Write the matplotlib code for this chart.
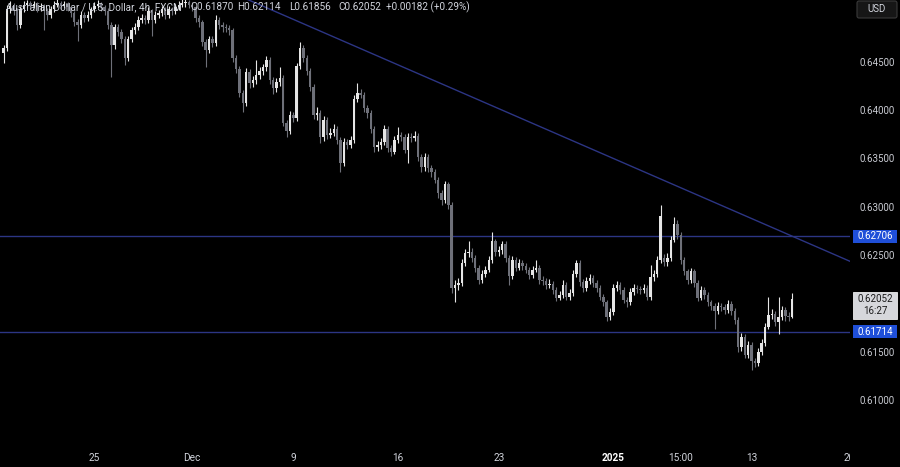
import numpy as np
import matplotlib
matplotlib.use("Agg")
import matplotlib.pyplot as plt
from matplotlib.patches import Rectangle, FancyBboxPatch
from matplotlib.transforms import blended_transform_factory

plt.rcParams['font.family'] = ['Roboto', 'DejaVu Sans']

# ---------------- data (AUD/USD 4h candles) ----------------
FIRST_OPEN = 0.6460
CLOSES = [
    0.6465, 0.6505, 0.6509, 0.6503, 0.6489, 0.6505, 0.6510, 0.6512, 0.6509, 0.6511,
    0.6507, 0.6509, 0.6503, 0.6499, 0.6505, 0.6510, 0.6512, 0.6509, 0.6511, 0.6507,
    0.6501, 0.6492, 0.6489, 0.6499, 0.6496, 0.6499, 0.6505, 0.6509, 0.6511, 0.6507,
    0.6503, 0.6489, 0.6468, 0.6487, 0.6482, 0.6474, 0.6455, 0.6474, 0.6484, 0.6487,
    0.6494, 0.6496, 0.6494, 0.6503, 0.6494, 0.6499, 0.6501, 0.6505, 0.6499, 0.6505,
    0.6503, 0.6507, 0.6510, 0.6512, 0.6513, 0.6510, 0.6507, 0.6496, 0.6492, 0.6471,
    0.6463, 0.6474, 0.6470, 0.6494, 0.6489, 0.6487, 0.6486, 0.6484, 0.6455, 0.6443,
    0.6419, 0.6408, 0.6440, 0.6429, 0.6432, 0.6437, 0.6441, 0.6445, 0.6453, 0.6432,
    0.6424, 0.6430, 0.6434, 0.6388, 0.6379, 0.6396, 0.6393, 0.6446, 0.6465, 0.6455,
    0.6441, 0.6425, 0.6396, 0.6398, 0.6373, 0.6391, 0.6375, 0.6377, 0.6381, 0.6370,
    0.6346, 0.6368, 0.6365, 0.6370, 0.6412, 0.6419, 0.6417, 0.6403, 0.6398, 0.6381,
    0.6363, 0.6365, 0.6368, 0.6381, 0.6362, 0.6358, 0.6370, 0.6375, 0.6373, 0.6360,
    0.6373, 0.6372, 0.6374, 0.6352, 0.6342, 0.6352, 0.6341, 0.6337, 0.6329, 0.6315,
    0.6308, 0.6324, 0.6303, 0.6217, 0.6220, 0.6222, 0.6243, 0.6253, 0.6254, 0.6248,
    0.6238, 0.6225, 0.6231, 0.6236, 0.6246, 0.6265, 0.6254, 0.6256, 0.6262, 0.6248,
    0.6229, 0.6246, 0.6238, 0.6243, 0.6240, 0.6236, 0.6230, 0.6236, 0.6238, 0.6225,
    0.6224, 0.6220, 0.6221, 0.6215, 0.6207, 0.6210, 0.6220, 0.6208, 0.6212, 0.6231,
    0.6243, 0.6223, 0.6217, 0.6224, 0.6227, 0.6222, 0.6217, 0.6208, 0.6202, 0.6187,
    0.6192, 0.6217, 0.6220, 0.6215, 0.6205, 0.6202, 0.6213, 0.6217, 0.6216, 0.6215,
    0.6217, 0.6208, 0.6228, 0.6231, 0.6246, 0.6291, 0.6244, 0.6248, 0.6267, 0.6283,
    0.6272, 0.6246, 0.6234, 0.6225, 0.6234, 0.6222, 0.6207, 0.6215, 0.6210, 0.6202,
    0.6198, 0.6193, 0.6198, 0.6197, 0.6194, 0.6200, 0.6193, 0.6184, 0.6156, 0.6166,
    0.6148, 0.6158, 0.6141, 0.6139, 0.6151, 0.6160, 0.6177, 0.6189, 0.6190, 0.6182,
    0.6187, 0.6194, 0.6188, 0.61870, 0.62052,
]
HIGHS = [
    0.6468, 0.6510, 0.6514, 0.6512, 0.6506, 0.6509, 0.6514, 0.6515, 0.6514, 0.6514,
    0.6513, 0.6512, 0.6511, 0.6506, 0.6509, 0.6514, 0.6516, 0.6514, 0.6514, 0.6513,
    0.6509, 0.6503, 0.6495, 0.6503, 0.6502, 0.6503, 0.6508, 0.6513, 0.6515, 0.6513,
    0.6510, 0.6506, 0.6492, 0.6490, 0.6490, 0.6485, 0.6477, 0.6477, 0.6487, 0.6491,
    0.6498, 0.6500, 0.6499, 0.6507, 0.6505, 0.6503, 0.6504, 0.6509, 0.6507, 0.6509,
    0.6508, 0.6511, 0.6514, 0.6516, 0.6518, 0.6515, 0.6513, 0.6509, 0.6499, 0.6494,
    0.6474, 0.6478, 0.6477, 0.6499, 0.6497, 0.6492, 0.6490, 0.6489, 0.6486, 0.6458,
    0.6446, 0.6422, 0.6444, 0.6443, 0.6436, 0.6453, 0.6445, 0.6449, 0.6457, 0.6456,
    0.6435, 0.6434, 0.6445, 0.6437, 0.6391, 0.6400, 0.6399, 0.6450, 0.6471, 0.6468,
    0.6458, 0.6444, 0.6428, 0.6404, 0.6401, 0.6395, 0.6394, 0.6382, 0.6386, 0.6384,
    0.6373, 0.6372, 0.6371, 0.6374, 0.6416, 0.6429, 0.6423, 0.6420, 0.6406, 0.6401,
    0.6384, 0.6369, 0.6372, 0.6385, 0.6384, 0.6365, 0.6374, 0.6383, 0.6378, 0.6376,
    0.6377, 0.6377, 0.6379, 0.6377, 0.6355, 0.6356, 0.6355, 0.6344, 0.6340, 0.6332,
    0.6318, 0.6328, 0.6327, 0.6306, 0.6225, 0.6227, 0.6247, 0.6257, 0.6265, 0.6258,
    0.6251, 0.6241, 0.6235, 0.6240, 0.6250, 0.6275, 0.6268, 0.6260, 0.6266, 0.6265,
    0.6251, 0.6250, 0.6249, 0.6247, 0.6246, 0.6243, 0.6239, 0.6240, 0.6246, 0.6241,
    0.6229, 0.6227, 0.6226, 0.6224, 0.6218, 0.6214, 0.6225, 0.6223, 0.6216, 0.6235,
    0.6246, 0.6246, 0.6226, 0.6228, 0.6231, 0.6230, 0.6225, 0.6220, 0.6211, 0.6205,
    0.6196, 0.6221, 0.6224, 0.6223, 0.6218, 0.6208, 0.6217, 0.6221, 0.6220, 0.6219,
    0.6221, 0.6220, 0.6241, 0.6236, 0.6250, 0.6303, 0.6252, 0.6253, 0.6271, 0.6290,
    0.6287, 0.6275, 0.6249, 0.6237, 0.6238, 0.6237, 0.6225, 0.6219, 0.6218, 0.6213,
    0.6205, 0.6201, 0.6202, 0.6201, 0.6200, 0.6204, 0.6203, 0.6196, 0.6187, 0.6170,
    0.6169, 0.6162, 0.6161, 0.6145, 0.6155, 0.6164, 0.6181, 0.6208, 0.6195, 0.6193,
    0.6208, 0.6198, 0.6197, 0.6192, 0.62114,
]
LOWS = [
    0.6450, 0.6462, 0.6501, 0.6499, 0.6484, 0.6486, 0.6502, 0.6506, 0.6505, 0.6506,
    0.6502, 0.6503, 0.6484, 0.6494, 0.6496, 0.6502, 0.6507, 0.6505, 0.6506, 0.6503,
    0.6497, 0.6488, 0.6472, 0.6486, 0.6492, 0.6493, 0.6496, 0.6502, 0.6506, 0.6503,
    0.6499, 0.6485, 0.6435, 0.6464, 0.6478, 0.6470, 0.6448, 0.6452, 0.6471, 0.6480,
    0.6484, 0.6491, 0.6490, 0.6491, 0.6477, 0.6491, 0.6496, 0.6498, 0.6495, 0.6496,
    0.6499, 0.6500, 0.6504, 0.6507, 0.6508, 0.6506, 0.6503, 0.6492, 0.6487, 0.6467,
    0.6445, 0.6460, 0.6466, 0.6467, 0.6485, 0.6482, 0.6482, 0.6479, 0.6451, 0.6439,
    0.6414, 0.6399, 0.6405, 0.6424, 0.6425, 0.6428, 0.6433, 0.6437, 0.6441, 0.6428,
    0.6418, 0.6420, 0.6426, 0.6384, 0.6373, 0.6376, 0.6389, 0.6390, 0.6443, 0.6451,
    0.6437, 0.6421, 0.6392, 0.6391, 0.6367, 0.6369, 0.6371, 0.6372, 0.6374, 0.6366,
    0.6337, 0.6343, 0.6361, 0.6362, 0.6367, 0.6409, 0.6413, 0.6399, 0.6393, 0.6377,
    0.6358, 0.6359, 0.6361, 0.6365, 0.6358, 0.6353, 0.6355, 0.6367, 0.6369, 0.6356,
    0.6346, 0.6368, 0.6369, 0.6348, 0.6337, 0.6338, 0.6337, 0.6332, 0.6325, 0.6310,
    0.6303, 0.6305, 0.6299, 0.6212, 0.6202, 0.6215, 0.6219, 0.6240, 0.6249, 0.6244,
    0.6233, 0.6221, 0.6222, 0.6228, 0.6233, 0.6243, 0.6250, 0.6250, 0.6252, 0.6244,
    0.6220, 0.6226, 0.6234, 0.6235, 0.6236, 0.6232, 0.6226, 0.6227, 0.6233, 0.6221,
    0.6220, 0.6216, 0.6217, 0.6211, 0.6203, 0.6204, 0.6207, 0.6204, 0.6205, 0.6209,
    0.6228, 0.6219, 0.6213, 0.6214, 0.6221, 0.6218, 0.6213, 0.6204, 0.6198, 0.6183,
    0.6184, 0.6189, 0.6214, 0.6211, 0.6201, 0.6197, 0.6199, 0.6210, 0.6212, 0.6211,
    0.6212, 0.6204, 0.6205, 0.6224, 0.6228, 0.6243, 0.6240, 0.6240, 0.6245, 0.6264,
    0.6268, 0.6242, 0.6230, 0.6221, 0.6222, 0.6218, 0.6203, 0.6204, 0.6206, 0.6198,
    0.6194, 0.6174, 0.6190, 0.6193, 0.6190, 0.6191, 0.6189, 0.6180, 0.6151, 0.6152,
    0.6144, 0.6145, 0.6132, 0.6135, 0.6136, 0.6148, 0.6157, 0.6174, 0.6185, 0.6178,
    0.6169, 0.6184, 0.6183, 0.6183, 0.61856,
]
GAP_OPENS = {196: 0.6248}          # candle that opened away from the prior close

LEVELS = [0.62706, 0.61714]        # horizontal support / resistance
TREND_IDX = [72.6, 251.2]          # descending trendline anchors (bar index)
TREND_PRICE = [0.6515, 0.62445]

PRICE_TICKS = [0.645, 0.640, 0.635, 0.630, 0.625, 0.615, 0.610]
XTICK_IDX = [27, 56, 86, 117, 147, 181, 201, 222, 251]
XTICK_LABELS = ["25", "Dec", "9", "16", "23", "2025", "15:00", "13", "20"]
LAST_PRICE = 0.62052
COUNTDOWN = "16:27"
HEADER = "Australian Dollar / U.S. Dollar, 4h, FXCM"
OHLC_TXT = ["O0.61870", "H0.62114", "L0.61856", "C0.62052", "+0.00182 (+0.29%)"]

# ---------------- figure ----------------
W, H = 900, 467
fig = plt.figure(figsize=(W / 100, H / 100), dpi=100, facecolor="black")
PLOT_W = 850
ax = fig.add_axes([0, 0, PLOT_W / W, 1])
ax.set_facecolor("black")
ax.set_xlim(-1.04, 251.2)
YTOP, YBOT = 0.651473, 0.603179
ax.set_ylim(YBOT, YTOP)
for s in ax.spines.values():
    s.set_visible(False)
ax.set_xticks([]); ax.set_yticks([])

closes = np.array(CLOSES)
opens = np.array([FIRST_OPEN] + CLOSES[:-1])
for k, v in GAP_OPENS.items():
    opens[k] = v
highs = np.maximum(np.array(HIGHS), np.maximum(opens, closes))
lows = np.minimum(np.array(LOWS), np.minimum(opens, closes))
idx = np.arange(len(closes))

UP = "#e6e6e6"
DOWN = "#6e7079"
up = closes >= opens
colors = np.where(up, UP, DOWN)

ax.vlines(idx, lows, highs, colors=colors, linewidth=0.8, zorder=2)
body_bot = np.minimum(opens, closes)
body_h = np.maximum(np.abs(closes - opens), 0.00008)
ax.bar(idx, body_h, bottom=body_bot, width=0.72, color=colors, linewidth=0, zorder=3)

LINE_C = "#2c3584"
for lv in LEVELS:
    ax.axhline(lv, color=LINE_C, linewidth=1.0, zorder=1)
ax.plot(TREND_IDX, TREND_PRICE, color=LINE_C, linewidth=1.0, zorder=1, clip_on=True)

# x labels
tr = blended_transform_factory(ax.transData, ax.transAxes)
for xi, lab in zip(XTICK_IDX, XTICK_LABELS):
    bold = lab == "2025"
    ax.text(xi, (H - 458) / H, lab, transform=tr, ha="center", va="center",
            fontsize=7.2, color="#ffffff" if bold else "#d1d4dc",
            fontweight="bold" if bold else "normal", clip_on=True, zorder=5)

# header
hx = 6 / PLOT_W
ht = ax.text(6 / PLOT_W, (H - 7) / H, HEADER, transform=ax.transAxes, ha="left",
             va="center", fontsize=7.2, color="#d1d4dc", zorder=6)
xs = [190, 237, 289, 338, 386]
for xp, t in zip(xs, OHLC_TXT):
    ax.text(xp / PLOT_W, (H - 7) / H, t, transform=ax.transAxes, ha="left",
            va="center", fontsize=7.2, color="#d1d4dc", zorder=6)

# ---------------- right price scale ----------------
axr = fig.add_axes([PLOT_W / W, 0, (W - PLOT_W) / W, 1])
axr.set_facecolor("black")
axr.set_xlim(0, 50)
axr.set_ylim(YBOT, YTOP)
for s in axr.spines.values():
    s.set_visible(False)
axr.set_xticks([]); axr.set_yticks([])

PPP = (YTOP - YBOT) / H  # price per pixel
for p in PRICE_TICKS:
    axr.text(27, p, f"{p:.5f}", ha="center", va="center", fontsize=7,
             color="#c9cbd2")

for lv in LEVELS:
    axr.add_patch(Rectangle((3, lv - 6.5 * PPP), 44, 13 * PPP, facecolor="#1f4fd8",
                            edgecolor="none", zorder=3))
    axr.text(25, lv, f"{lv:.5f}", ha="center", va="center", fontsize=7,
             color="white", zorder=4)

# last price box
top_y = LAST_PRICE + 7.5 * PPP
axr.add_patch(Rectangle((3, top_y - 27 * PPP), 44, 27 * PPP, facecolor="#d6d7db",
                        edgecolor="#eeeeee", linewidth=0.6, zorder=3))
axr.text(25, top_y - 7.5 * PPP, f"{LAST_PRICE:.5f}", ha="center", va="center",
         fontsize=7, color="#1a1a1a", zorder=4)
axr.text(25, top_y - 19.5 * PPP, COUNTDOWN, ha="center", va="center",
         fontsize=7, color="#1a1a1a", zorder=4)

# currency box
axr.add_patch(FancyBboxPatch((7, YTOP - 18 * PPP), 40, 17 * PPP,
                             boxstyle="round,pad=0,rounding_size=2",
                             mutation_aspect=PPP, facecolor="#161616",
                             edgecolor="#3a3a3a", linewidth=0.8, zorder=3))
axr.text(27, YTOP - 9 * PPP, "USD", ha="center", va="center", fontsize=7,
         color="#d1d4dc", zorder=4)

fig.savefig("out.png", dpi=100, facecolor="black")
